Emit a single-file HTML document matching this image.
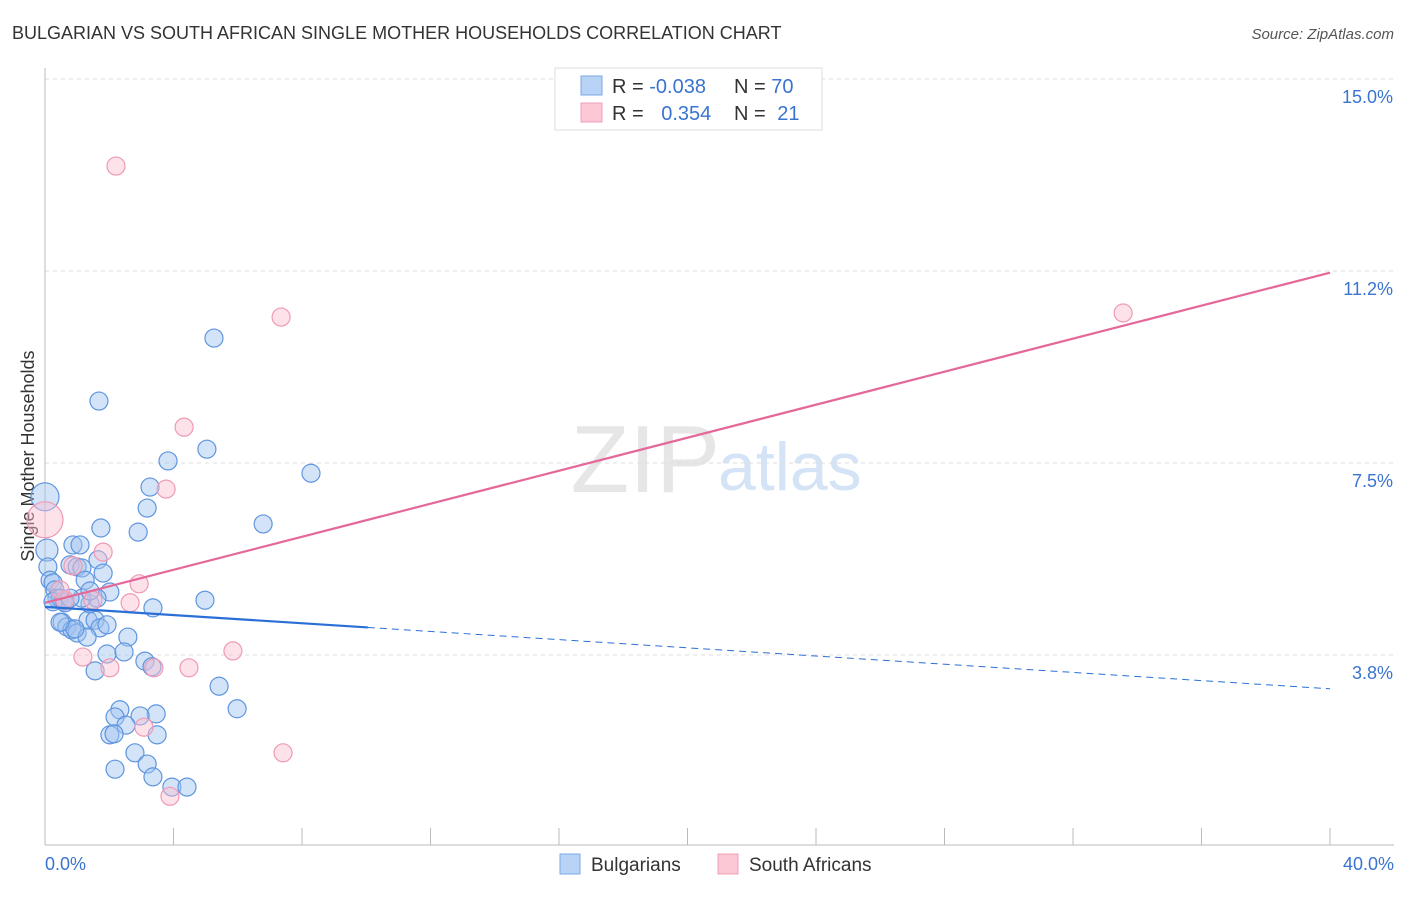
<!DOCTYPE html>
<html><head><meta charset="utf-8"><style>
body{margin:0;background:#fff;font-family:"Liberation Sans",sans-serif;}
svg text{font-family:"Liberation Sans",sans-serif;}
</style></head><body>
<svg id="c" width="1406" height="892">
<text x="12" y="39" font-size="18" fill="#333">BULGARIAN VS SOUTH AFRICAN SINGLE MOTHER HOUSEHOLDS CORRELATION CHART</text>
<text x="1394" y="39" font-size="15" fill="#555" text-anchor="end" font-style="italic">Source: ZipAtlas.com</text>
<text x="720" y="492" font-size="96" fill="#e6e6e6" text-anchor="end" font-family="Liberation Serif">ZIP</text>
<text x="718" y="490" font-size="68" fill="#d4e3f5">atlas</text>
<text transform="translate(34,456) rotate(-90)" font-size="18" fill="#333" text-anchor="middle">Single Mother Households</text>
<g id="grid"></g><g id="marks"></g>
<g>
<rect x="555" y="68" width="267" height="62" fill="#fff" stroke="#ddd"/>
<rect x="581" y="76" width="21" height="19" fill="#b8d3f5" stroke="#7aa8e6"/>
<rect x="581" y="103" width="21" height="19" fill="#fcc8d6" stroke="#f0a0b8"/>
<text x="612" y="93" font-size="20" fill="#333">R = <tspan fill="#3a74d0">-0.038</tspan></text>
<text x="734" y="93" font-size="20" fill="#333">N = <tspan fill="#3a74d0">70</tspan></text>
<text x="612" y="120" font-size="20" fill="#333">R = <tspan fill="#3a74d0" dx="12">0.354</tspan></text>
<text x="734" y="120" font-size="20" fill="#333">N = <tspan fill="#3a74d0" dx="6">21</tspan></text>
</g>
<g>
<rect x="560" y="854" width="20" height="20" fill="#b8d3f5" stroke="#7aa8e6"/>
<text x="591" y="871" font-size="19" fill="#333">Bulgarians</text>
<rect x="718" y="854" width="20" height="20" fill="#fcc8d6" stroke="#f0a0b8"/>
<text x="749" y="871" font-size="19" fill="#333">South Africans</text>
</g>
</svg>
<script>
const yTicks=[3.75,7.5,11.25,15];
const yTickLabels=["3.8%","7.5%","11.2%","15.0%"];
const xTickLabels=["0.0%","40.0%"];
const blueX=[0,0.06,0.09,0.16,0.25,0.31,0.37,0.47,0.56,0.25,0.62,0.53,0.68,0.84,1.0,1.34,1.56,1.71,1.93,0.87,1.09,0.78,1.0,1.15,1.25,1.65,1.74,2.90,3.18,3.27,3.83,5.04,5.26,1.68,8.28,6.79,4.98,3.36,2.02,1.40,1.62,2.58,1.31,1.93,2.46,3.11,3.33,1.56,5.42,5.98,2.33,2.18,3.46,2.96,2.52,2.02,2.15,3.49,2.80,3.18,2.18,3.36,3.95,4.42,0.93,0.47,1.15,0.78,1.40,1.81];
const blueY=[6.84,5.80,5.47,5.21,5.16,5.02,4.86,4.86,4.80,4.79,4.77,4.39,4.30,4.24,4.18,4.43,4.43,4.28,4.34,5.90,5.90,5.51,5.47,5.45,5.21,5.61,6.23,6.15,6.62,7.03,7.54,7.77,9.94,8.71,7.30,6.31,4.82,4.67,4.98,4.75,4.86,4.10,4.10,3.77,3.81,3.63,3.52,3.44,3.14,2.70,2.68,2.54,2.60,2.56,2.38,2.19,2.21,2.19,1.84,1.62,1.52,1.37,1.17,1.17,4.26,4.39,4.86,4.86,5.00,5.35];
const blueR=[14,11,9,9,9,9,9,9,9,9,9,9,9,9,9,9,9,9,9,9,9,9,9,9,9,9,9,9,9,9,9,9,9,9,9,9,9,9,9,9,9,9,9,9,9,9,9,9,9,9,9,9,9,9,9,9,9,9,9,9,9,9,9,9,9,9,9,9,9,9];
const pinkX=[2.21,7.35,33.56,4.33,3.77,0,1.81,0.87,2.93,2.65,1.49,0.62,1.18,2.02,3.39,4.48,5.85,3.08,7.41,3.89,0.47];
const pinkY=[13.30,10.35,10.43,8.20,6.99,6.39,5.76,5.49,5.14,4.77,4.82,4.82,3.71,3.50,3.50,3.50,3.83,2.34,1.84,0.99,5.02];
const pinkR=[9,9,9,9,9,18,9,9,9,9,9,9,9,9,9,9,9,9,9,9,9];
const blueTrend=[4.69,-0.04];   // intercept, slope (per %)
const pinkTrend=[4.77,0.1612];
const X=v=>45+v/40*1285, Y=v=>655-(v-3.75)*51.2;
const NS="http://www.w3.org/2000/svg";
const g=document.getElementById('grid'), m=document.getElementById('marks');
function mk(p,tag,a){const e=document.createElementNS(NS,tag);for(const k in a)e.setAttribute(k,a[k]);p.appendChild(e);return e;}
yTicks.forEach((t,i)=>{
 const l=mk(g,'line',{x1:45,x2:1394,y1:Y(t),y2:Y(t),stroke:'#ddd','stroke-dasharray':'4,4'});
 
 
 const tx=mk(g,'text',{x:1393,y:Y(t)+24,'font-size':18,fill:'#3a74d0','text-anchor':'end'});
 tx.textContent=yTickLabels[i];
 
 
});
const ax=mk(g,'line',{x1:45,x2:45,y1:68,y2:845,stroke:'#bbb'});


const bx=mk(g,'line',{x1:45,x2:1394,y1:845,y2:845,stroke:'#bbb'});


for(let i=0;i<=10;i++){const t=mk(g,'line',{x1:X(i*4),x2:X(i*4),y1:828,y2:845,stroke:'#bbb'});
 
 }
[[0,'start',45],[40,'end',1394]].forEach((d,i)=>{const t=mk(g,'text',{x:d[2],y:870,'font-size':18,fill:'#3a74d0','text-anchor':d[1]});
 t.textContent=xTickLabels[i];
 
 });
blueX.forEach((v,i)=>{const c=mk(m,'circle',{cx:X(v),cy:Y(blueY[i]),r:blueR[i],fill:'rgba(160,196,240,0.45)',stroke:'#5f95df','stroke-width':1.2});
 
 });
pinkX.forEach((v,i)=>{const c=mk(m,'circle',{cx:X(v),cy:Y(pinkY[i]),r:pinkR[i],fill:'rgba(250,190,208,0.45)',stroke:'#ef9ab4','stroke-width':1.2});
 
 });
const bf=x=>blueTrend[0]+blueTrend[1]*x, pf=x=>pinkTrend[0]+pinkTrend[1]*x;
const l1=mk(m,'line',{x1:X(0),y1:Y(bf(0)),x2:X(10.05),y2:Y(bf(10.05)),stroke:'#2a6fd6','stroke-width':2.2});


const l2=mk(m,'line',{x1:X(10.05),y1:Y(bf(10.05)),x2:X(40),y2:Y(bf(40)),stroke:'#2a6fd6','stroke-width':1,'stroke-dasharray':'7,5'});


const l3=mk(m,'line',{x1:X(0),y1:Y(pf(0)),x2:X(40),y2:Y(pf(40)),stroke:'#e4699a','stroke-width':2.2});


</script>
</body></html>
